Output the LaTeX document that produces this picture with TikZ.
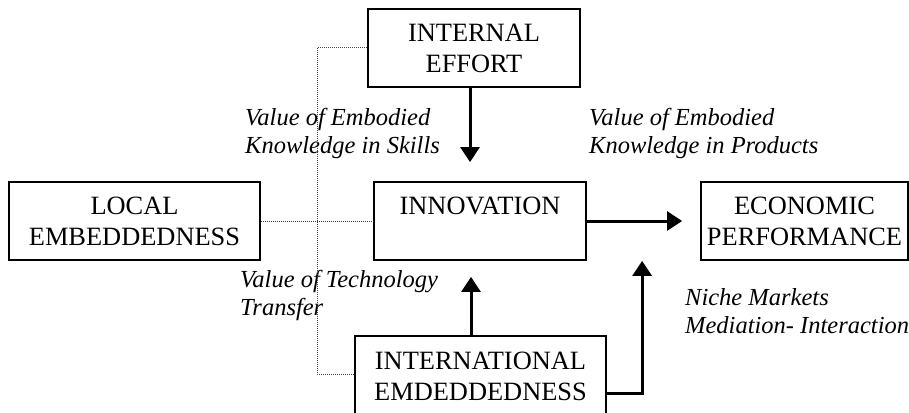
\documentclass[tikz,border=0pt]{standalone}
\usepackage{fontspec}
\setmainfont{Liberation Serif}
\usetikzlibrary{arrows.meta}
\tikzset{
  boxnode/.style={draw=black, line width=1.8pt, inner sep=0pt, align=center,
    font=\fontsize{26.4}{31}\selectfont},
  arr/.style={line width=3pt, -{Triangle[length=15pt,width=19pt]}},
  dotl/.style={line width=1pt, black!75, dash pattern=on 1pt off 1pt},
  lbl/.style={inner sep=0pt, anchor=base west, font=\fontsize{24.5}{28}\selectfont\itshape}
}
\begin{document}
\begin{tikzpicture}[x=1pt,y=-1pt]
\useasboundingbox (0,0) rectangle (909,412);
\node[boxnode, minimum width=212pt, minimum height=78pt] (internal) at (474,48) {INTERNAL\\EFFORT};
\node[boxnode, minimum width=251pt, minimum height=78pt] (local) at (134.5,221) {LOCAL\\EMBEDDEDNESS};
\node[boxnode, minimum width=212pt, minimum height=78pt] (innov) at (480,221) {INNOVATION\\\phantom{X}};
\node[boxnode, minimum width=207pt, minimum height=78pt] (econ) at (804.5,221) {ECONOMIC\\PERFORMANCE};
\node[boxnode, minimum width=251pt, minimum height=80pt] (intl) at (480.5,376) {INTERNATIONAL\\EMDEDDEDNESS};

\node[lbl] (lskill) at (245,125) {\begin{tabular}[t]{@{}l@{}}Value of Embodied\\Knowledge in Skills\end{tabular}};
\node[lbl] (lprod) at (589,125) {\begin{tabular}[t]{@{}l@{}}Value of Embodied\\Knowledge in Products\end{tabular}};
\node[lbl] (ltrans) at (240,287) {\begin{tabular}[t]{@{}l@{}}Value of Technology\\Transfer\end{tabular}};
\node[lbl] (lniche) at (685,305) {\begin{tabular}[t]{@{}l@{}}Niche Markets\\Mediation- Interaction\end{tabular}};

\draw[dotl] (internal.west) -- ++(-50,0) |- ([yshift=1.5pt]intl.west);
\draw[dotl] (local.east) -- (innov.west);

\draw[arr] ([xshift=-4pt]internal.south) -- ([xshift=-10pt,yshift=19pt]innov.north);
\draw[arr] (innov.east) -- ([xshift=-18pt]econ.west);
\draw[arr] ([xshift=-9.5pt]intl.north) -- ([xshift=-9pt,yshift=-16pt]innov.south);
\draw[arr] ([yshift=-17pt]intl.east) -| ([xshift=-58pt]econ.south west);
\end{tikzpicture}
\end{document}
